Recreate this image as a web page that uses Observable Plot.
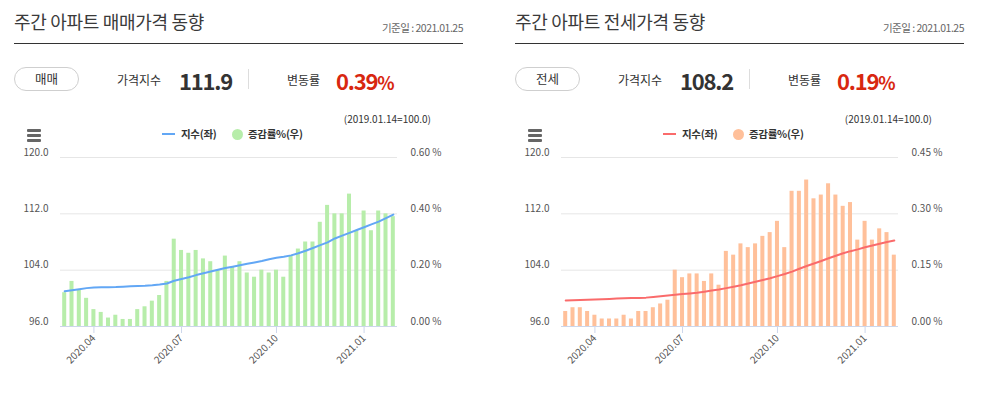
<!DOCTYPE html>
<html>
<head>
<meta charset="utf-8">
<script src="https://cdn.jsdelivr.net/npm/d3@7"></script>
<script src="https://cdn.jsdelivr.net/npm/@observablehq/plot@0.6"></script>
<style>
  html, body { margin: 0; padding: 0; background: #fff; }
  body { width: 981px; height: 398px; overflow: hidden; position: relative;
         font-family: "Noto Sans CJK KR", "Noto Sans", sans-serif; color: #333; }
  .panel { position: absolute; top: 0; width: 490px; height: 398px; }
  .abs { position: absolute; white-space: nowrap; }
  .title { left: 14px; top: 10px; font-size: 18px; line-height: 22px; letter-spacing: -0.3px; color: #3a3a3a; }
  .date { right: 27px; top: 21px; font-size: 10.5px; line-height: 14px; letter-spacing: -0.5px; color: #666; }
  .rule { left: 14px; top: 43px; width: 449px; height: 1px; background: #333; }
  .pill { left: 14px; top: 67px; width: 63px; height: 22px; border: 1px solid #cfcfcf; border-radius: 12px;
          font-size: 12.5px; line-height: 22px; text-align: center; color: #333; }
  .lab { top: 72px; font-size: 12px; line-height: 16px; color: #333; }
  .big { top: 66px; font-size: 22px; line-height: 28px; font-weight: 700; color: #333; letter-spacing: -1.2px; }
  .red { color: #d8270f; }
  .red small { font-size: 18px; }
  .sep { left: 248px; top: 69px; width: 1px; height: 20px; background: #ddd; }
  .base { right: 59px; top: 112px; font-size: 10px; line-height: 14px; color: #333; }
  .ham { left: 27px; width: 14px; height: 2.5px; background: #666; border-radius: 1px; }
  .leg { top: 127px; font-size: 10.5px; line-height: 14px; font-weight: 700; color: #333; letter-spacing: -0.3px; }
  .swline { left: 162px; top: 133px; width: 13px; height: 2px; }
  .swdot { left: 232px; top: 129px; width: 11px; height: 11px; border-radius: 50%; }
  .chart { position: absolute; left: 0; top: 140px; }
</style>
</head>
<body>
<script>
// ---- data ----
const dates = [
  "2020-03-16","2020-03-23","2020-03-30","2020-04-06","2020-04-13","2020-04-20","2020-04-27",
  "2020-05-04","2020-05-11","2020-05-18","2020-05-25","2020-06-01","2020-06-08","2020-06-15",
  "2020-06-22","2020-06-29","2020-07-06","2020-07-13","2020-07-20","2020-07-27","2020-08-03",
  "2020-08-10","2020-08-17","2020-08-24","2020-08-31","2020-09-07","2020-09-14","2020-09-21",
  "2020-09-28","2020-10-05","2020-10-12","2020-10-19","2020-10-26","2020-11-02","2020-11-09",
  "2020-11-16","2020-11-23","2020-11-30","2020-12-07","2020-12-14","2020-12-21","2020-12-28",
  "2021-01-04","2021-01-11","2021-01-18","2021-01-25"
];
const saleIndex = [
  101.0,101.15,101.3,101.45,101.55,101.57,101.58,101.6,101.65,101.7,101.75,101.78,101.85,101.95,
  102.1,102.5,102.75,103.0,103.3,103.55,103.8,104.05,104.3,104.5,104.7,104.9,105.1,105.3,
  105.55,105.75,105.9,106.1,106.4,106.75,107.15,107.55,107.95,108.5,108.9,109.3,109.7,110.1,
  110.5,110.9,111.4,111.9
];
const salePct = [
  0.12,0.16,0.13,0.10,0.06,0.05,0.03,0.04,0.025,0.025,0.06,0.07,0.09,0.11,0.16,0.31,0.27,0.26,
  0.27,0.24,0.23,0.20,0.25,0.21,0.23,0.19,0.175,0.20,0.19,0.20,0.175,0.25,0.275,0.30,0.30,0.37,
  0.43,0.40,0.40,0.47,0.34,0.41,0.34,0.41,0.40,0.39
];
const jeonseIndex = [
  99.7,99.72,99.75,99.8,99.85,99.88,99.92,99.96,100.0,100.03,100.06,100.1,100.2,100.3,100.4,
  100.5,100.6,100.7,100.8,100.95,101.1,101.25,101.45,101.65,101.85,102.1,102.35,102.6,102.85,
  103.15,103.45,103.8,104.2,104.6,104.95,105.3,105.7,106.05,106.4,106.7,106.95,107.25,107.5,
  107.75,108.0,108.2
];
const jeonsePct = [
  0.04,0.05,0.05,0.04,0.03,0.02,0.02,0.02,0.03,0.02,0.04,0.04,0.05,0.06,0.07,0.15,0.13,0.14,
  0.14,0.12,0.14,0.11,0.20,0.19,0.22,0.21,0.22,0.24,0.25,0.28,0.21,0.36,0.36,0.39,0.34,0.35,
  0.38,0.35,0.32,0.33,0.23,0.28,0.23,0.26,0.25,0.19
];
const tickDates = ["2020-04-13","2020-07-06","2020-10-05","2020-12-28"];
const tickLabels = ["2020.04","2020.07","2020.10","2021.01"];
const leftTicks = [96, 104, 112, 120];
const saleRightTicks = [0, 0.2, 0.4, 0.6];
const jeonseRightTicks = [0, 0.15, 0.30, 0.45];

const panels = [
  {left: 0, title: "주간 아파트 매매가격 동향", pill: "매매", value: "111.9", rate: "0.39",
   index: saleIndex, pct: salePct, rTicks: saleRightTicks, bar: "#b7edaa", line: "#62a7f5"},
  {left: 501, title: "주간 아파트 전세가격 동향", pill: "전세", value: "108.2", rate: "0.19",
   index: jeonseIndex, pct: jeonsePct, rTicks: jeonseRightTicks, bar: "#ffc09a", line: "#fa6b6b"}
];

const W = 490, H = 240;
const M = {marginTop: 17, marginBottom: 54, marginLeft: 60, marginRight: 93};
const font = '"Noto Sans CJK KR", "Noto Sans", sans-serif';
const xScale = {type: "band", domain: dates, paddingInner: 0.45, paddingOuter: 0.3, round: false, label: null};

for (const p of panels) {
  const panel = document.createElement("div");
  panel.className = "panel";
  panel.style.left = p.left + "px";
  panel.innerHTML = `
    <div class="abs title">${p.title}</div>
    <div class="abs date">기준일 : 2021.01.25</div>
    <div class="abs rule"></div>
    <div class="abs pill">${p.pill}</div>
    <div class="abs lab" style="left:117px">가격지수</div>
    <div class="abs big" style="left:179px">${p.value}</div>
    <div class="abs sep"></div>
    <div class="abs lab" style="left:287px">변동률</div>
    <div class="abs big red" style="left:336px">${p.rate}<small>%</small></div>
    <div class="abs base">(2019.01.14=100.0)</div>
    <div class="abs ham" style="top:129px"></div>
    <div class="abs ham" style="top:134px"></div>
    <div class="abs ham" style="top:139px"></div>
    <div class="abs swline" style="background:${p.line}"></div>
    <div class="abs leg" style="left:181px">지수(좌)</div>
    <div class="abs swdot" style="background:${p.bar}"></div>
    <div class="abs leg" style="left:248px">증감률%(우)</div>
  `;
  document.body.appendChild(panel);

  const table = dates.map((d, i) => ({date: d, index: p.index[i], pct: p.pct[i]}));
  const rMax = p.rTicks[p.rTicks.length - 1];

  const bars = Plot.plot({
    width: W, height: H, ...M,
    style: {fontFamily: font, fontSize: "10px", background: "transparent", overflow: "visible"},
    x: xScale,
    y: {domain: [0, rMax], label: null},
    marks: [
      Plot.ruleY(p.rTicks, {stroke: "#e6e6e6", strokeWidth: 1}),
      Plot.barY(table, {x: "date", y: "pct", fill: p.bar}),
      Plot.ruleY([0], {stroke: "#ccd6eb", strokeWidth: 1}),
      Plot.axisX({ticks: tickDates, tickFormat: d => tickLabels[tickDates.indexOf(d)],
                  tickRotate: -45, tickSize: 7, tickPadding: 3, stroke: "#ccd6eb", fill: "#555"}),
      Plot.axisY({anchor: "right", ticks: p.rTicks, tickSize: 0, tickPadding: 13,
                  tickFormat: d => d.toFixed(2) + " %", fill: "#555", dy: -5})
    ]
  });
  bars.classList.add("chart");
  panel.appendChild(bars);

  const line = Plot.plot({
    width: W, height: H, ...M,
    style: {fontFamily: font, fontSize: "10px", background: "transparent", overflow: "visible"},
    x: {...xScale, axis: null},
    y: {domain: [96, 120], label: null},
    marks: [
      Plot.lineY(table, {x: "date", y: "index", stroke: p.line, strokeWidth: 2}),
      Plot.axisY({anchor: "left", ticks: leftTicks, tickSize: 0, tickPadding: 12,
                  tickFormat: d => d.toFixed(1), fill: "#555", dy: -5})
    ]
  });
  line.classList.add("chart");
  panel.appendChild(line);
}
</script>
</body>
</html>
